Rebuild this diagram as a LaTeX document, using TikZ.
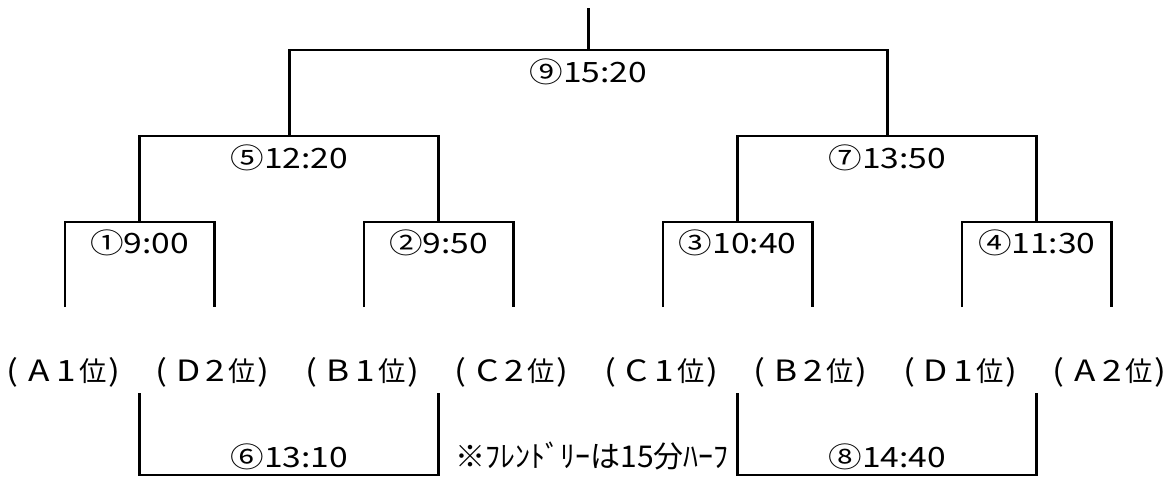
\documentclass[tikz,border=0pt]{standalone}
\usepackage{fontspec}
\usepackage{tikz}
\newfontfamily\jpfont{Noto Sans CJK JP}
\newfontfamily\timefont[FakeStretch=1.2]{Noto Sans CJK JP}
\newcommand\rankcell[1]{\makebox[20.25pt]{\timefont\fontsize{22}{24}\selectfont#1}}
\newcommand\rankpar[1]{{\timefont\fontsize{22}{24}\selectfont#1}}

\begin{document}
\begin{tikzpicture}[x=0.75pt,y=-0.75pt,line width=2.2pt,
	team/.style={font=\jpfont\fontsize{20.5}{22}\selectfont,inner sep=0pt},
	timelbl/.style={font=\timefont\fontsize{21}{24}\selectfont,inner sep=0pt},
	note/.style={font=\jpfont\fontsize{22.5}{24}\selectfont,inner sep=0pt}]
	\useasboundingbox (0,0) rectangle (1176,477);
	% teams
	\foreach \i/\g/\r in{1/A/1,2/D/2,3/B/1,4/C/2,5/C/1,6/B/2,7/D/1,8/A/2}{
		\node [team] (t\i) at({63+149.5*(\i-1)},372) {\rankpar{(}\hspace{5.5pt}\rankcell{\g}\rankcell{\r}位\hspace{1pt}\rankpar{)}};
		\coordinate (c\i) at({65+149.5*(\i-1)},307);
	}
	% first round
	\foreach \a/\b/\n/\t in{1/2/1/①9:00,3/4/2/②9:50,5/6/3/③10:40,7/8/4/④11:30}{
		\coordinate (m\n) at({65+149.5*(\a-0.5)},222);
		\draw (c\a) |- (m\n) -| (c\b);
		\node [timelbl] (l\n) at({65+149.5*(\a-0.5)},243) {\t};
	}
	% second round
	\coordinate (q1) at(289.25,136);
	\coordinate (q2) at(887.25,136);
	\draw (m1) |- (q1) -| (m2);
	\draw (m3) |- (q2) -| (m4);
	\node [timelbl] (l5) at(289.25,158) {⑤12:20};
	\node [timelbl] (l7) at(887.25,158) {⑦13:50};
	% final
	\coordinate (f) at(588.25,50);
	\coordinate (top) at(588.25,8);
	\draw (q1) |- (f) -| (q2);
	\draw (f) -- (top);
	\node [timelbl] (l9) at(588.25,72) {⑨15:20};
	% friendly matches
	\coordinate (d1) at(139.75,393);
	\coordinate (d2) at(438.75,393);
	\coordinate (d3) at(737.75,393);
	\coordinate (d4) at(1036.75,393);
	\coordinate (k6) at(289.25,475);
	\coordinate (k8) at(887.25,475);
	\draw (d1) |- (k6) -| (d2);
	\draw (d3) |- (k8) -| (d4);
	\node [timelbl] (l6) at(289.25,457) {⑥13:10};
	\node [timelbl] (l8) at(887.25,457) {⑧14:40};
	\node [note] (n) at(592,456) {※ﾌﾚﾝﾄﾞﾘｰは15分ﾊｰﾌ};
\end{tikzpicture}
\end{document}
